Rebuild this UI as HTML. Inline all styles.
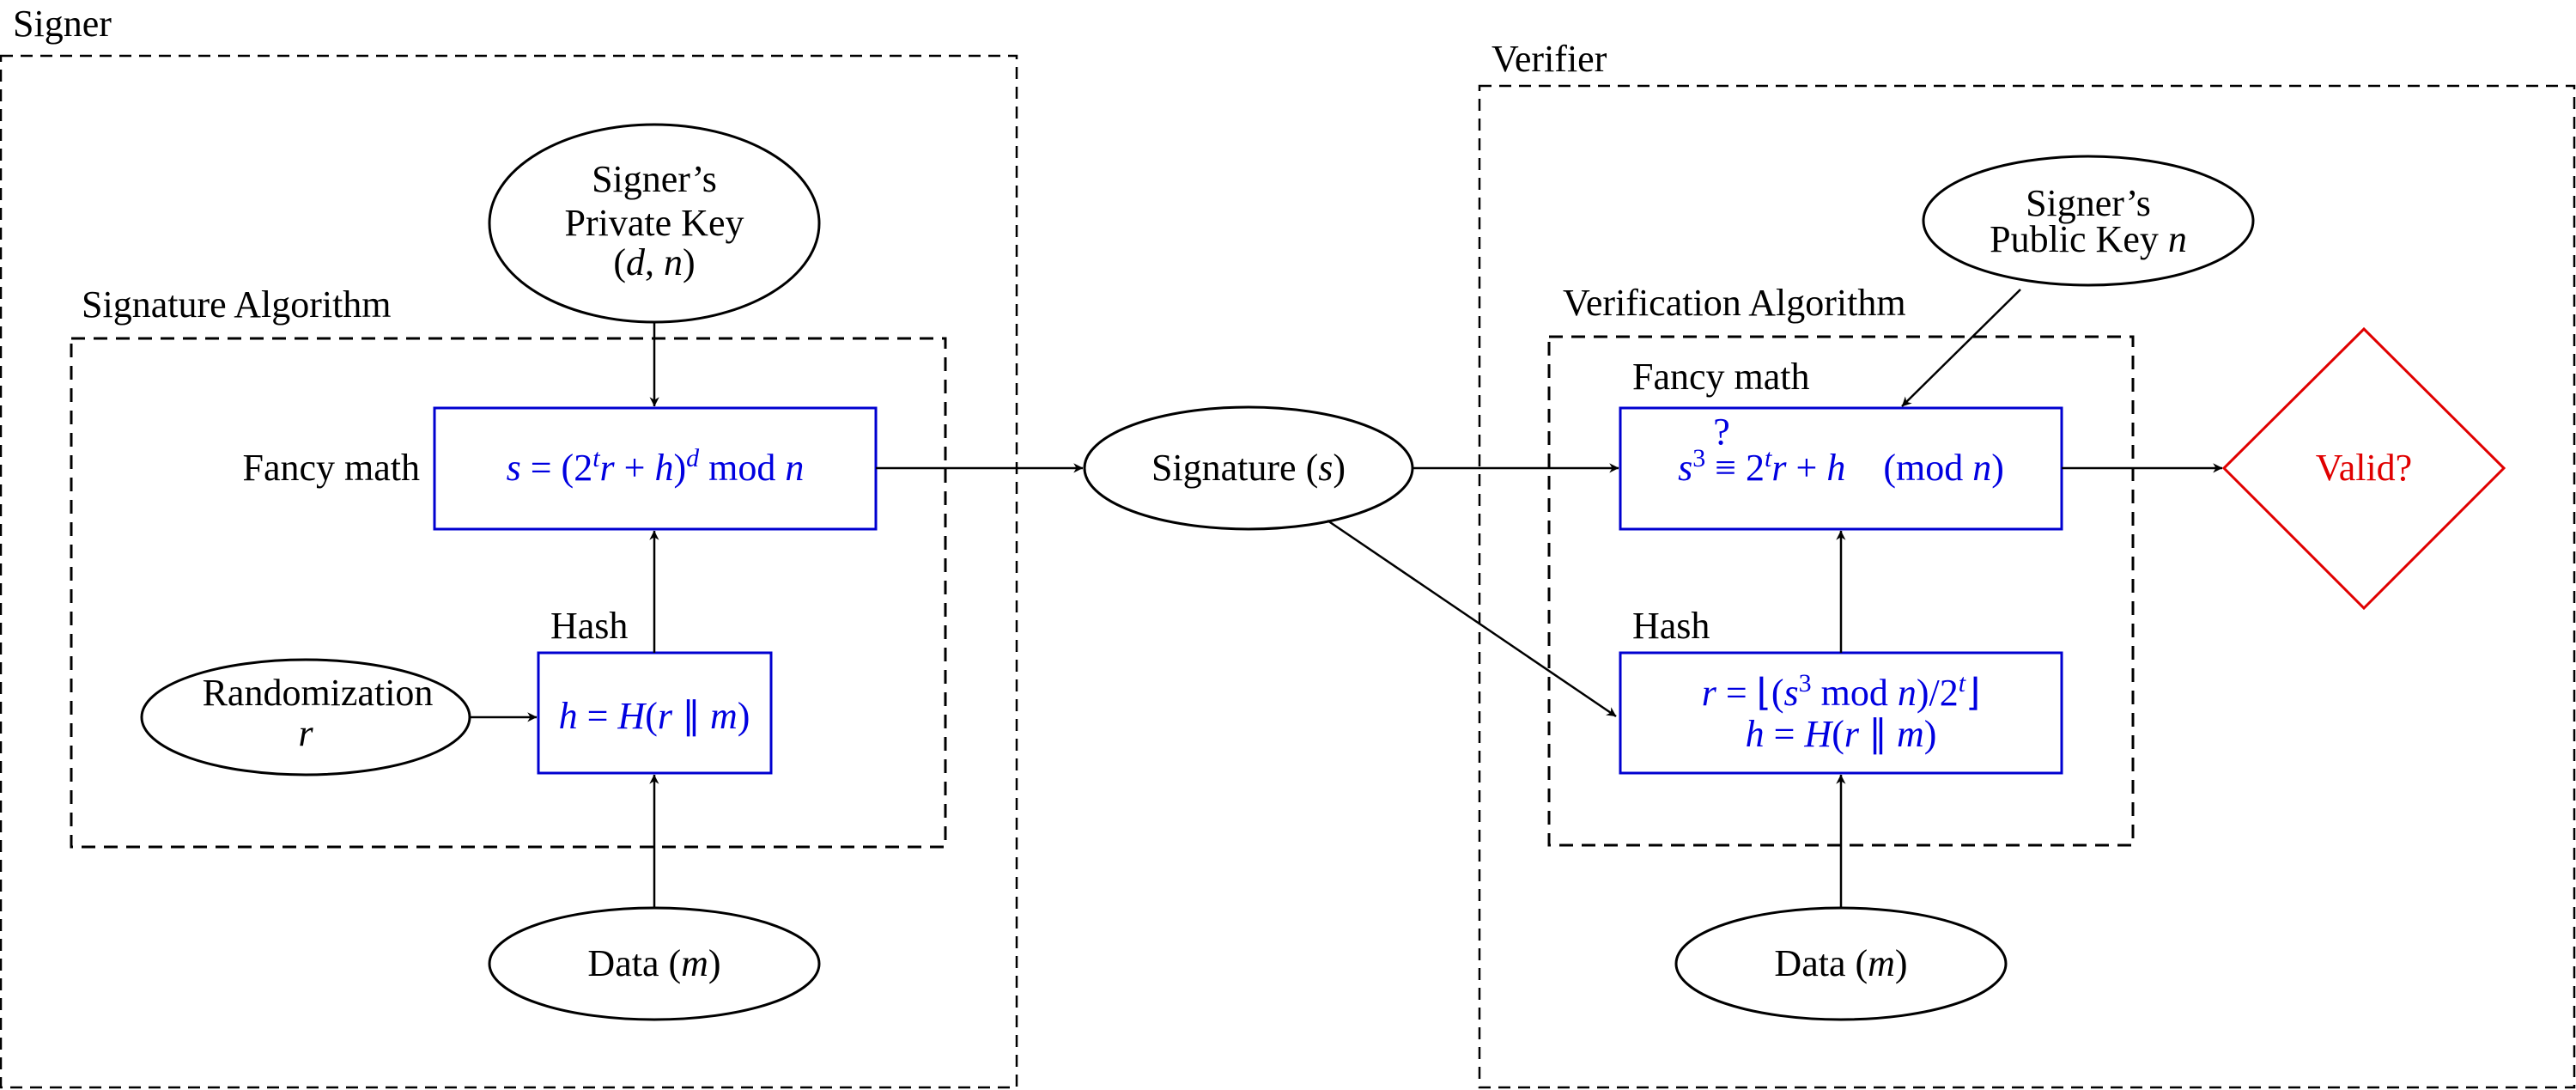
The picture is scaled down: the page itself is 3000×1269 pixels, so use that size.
<!DOCTYPE html>
<html><head><meta charset="utf-8"><style>
html,body{margin:0;padding:0;background:#fff}
svg{display:block}
text{font-family:"Liberation Serif",serif;font-size:44px}
.m{font-style:italic}
.b{fill:#0000e0}
</style></head><body>
<svg width="3000" height="1269" viewBox="0 0 3000 1269" xmlns="http://www.w3.org/2000/svg">
<defs>
<marker id="a" viewBox="0 0 10 10" refX="9" refY="5" markerWidth="7" markerHeight="7" markerUnits="userSpaceOnUse" orient="auto" style="overflow:visible">
<path d="M0,0 L10,5 L0,10 L3,5 Z" fill="#000" transform="scale(1.6) translate(-4,-2)"/>
</marker>
</defs>
<g fill="none" stroke="#000" stroke-width="2.5" stroke-dasharray="14,9">
<rect x="1" y="65" width="1183" height="1201"/>
<rect x="1723" y="100" width="1275" height="1166"/>
</g>
<g fill="none" stroke="#000" stroke-width="3" stroke-dasharray="16,10">
<rect x="83" y="394" width="1018" height="592"/>
<rect x="1804" y="392" width="680" height="592"/>
</g>
<g fill="none" stroke="#000" stroke-width="3">
<ellipse cx="762" cy="260" rx="192" ry="115"/>
<ellipse cx="356" cy="835" rx="191" ry="67"/>
<ellipse cx="762" cy="1122" rx="192" ry="65"/>
<ellipse cx="1454" cy="545" rx="191" ry="71"/>
<ellipse cx="2432" cy="257" rx="192" ry="75"/>
<ellipse cx="2144" cy="1122" rx="192" ry="65"/>
</g>
<g fill="none" stroke="#0000d0" stroke-width="3">
<rect x="506" y="475" width="514" height="141"/>
<rect x="627" y="760" width="271" height="140"/>
<rect x="1887" y="475" width="514" height="141"/>
<rect x="1887" y="760" width="514" height="140"/>
</g>
<path d="M2753,383 L2916,545 L2753,708 L2590,545 Z" fill="none" stroke="#e00000" stroke-width="3"/>
<g stroke="#000" stroke-width="2.5" fill="none">
<line x1="762" y1="375" x2="762" y2="473" marker-end="url(#a)"/>
<line x1="762" y1="760" x2="762" y2="618" marker-end="url(#a)"/>
<line x1="762" y1="1057" x2="762" y2="902" marker-end="url(#a)"/>
<line x1="547" y1="835" x2="625" y2="835" marker-end="url(#a)"/>
<line x1="1020" y1="545" x2="1261" y2="545" marker-end="url(#a)"/>
<line x1="1645" y1="545" x2="1885" y2="545" marker-end="url(#a)"/>
<line x1="1546" y1="606" x2="1882" y2="834" marker-end="url(#a)"/>
<line x1="2353" y1="337" x2="2215" y2="473" marker-end="url(#a)"/>
<line x1="2144" y1="760" x2="2144" y2="618" marker-end="url(#a)"/>
<line x1="2144" y1="1057" x2="2144" y2="902" marker-end="url(#a)"/>
<line x1="2401" y1="545" x2="2588" y2="545" marker-end="url(#a)"/>
</g>
<text x="15" y="42">Signer</text>
<text x="1737" y="83">Verifier</text>
<text x="95" y="369">Signature Algorithm</text>
<text x="1820" y="367">Verification Algorithm</text>
<text x="489" y="559" text-anchor="end">Fancy math</text>
<text x="641" y="743">Hash</text>
<text x="1901" y="453">Fancy math</text>
<text x="1901" y="743">Hash</text>
<text x="762" y="223" text-anchor="middle">Signer’s</text>
<text x="762" y="274" text-anchor="middle">Private Key</text>
<text x="762" y="320" text-anchor="middle">(<tspan class="m">d</tspan>, <tspan class="m">n</tspan>)</text>
<text x="370" y="821" text-anchor="middle">Randomization</text>
<text x="356" y="868" text-anchor="middle" class="m">r</text>
<text x="762" y="1136" text-anchor="middle">Data (<tspan class="m">m</tspan>)</text>
<text x="2144" y="1136" text-anchor="middle">Data (<tspan class="m">m</tspan>)</text>
<text x="1454" y="559" text-anchor="middle">Signature (<tspan class="m">s</tspan>)</text>
<text x="2432" y="251" text-anchor="middle">Signer’s</text>
<text x="2432" y="293" text-anchor="middle">Public Key <tspan class="m">n</tspan></text>
<text x="2753" y="559" text-anchor="middle" fill="#e00000">Valid?</text>
<text x="763" y="559" text-anchor="middle" class="b"><tspan class="m">s</tspan> = (2<tspan dy="-16" font-size="30" class="m">t</tspan><tspan dy="16" class="m">r</tspan> + <tspan class="m">h</tspan>)<tspan dy="-16" font-size="30" class="m">d</tspan><tspan dy="16"> mod </tspan><tspan class="m">n</tspan></text>
<text x="762" y="848" text-anchor="middle" class="b"><tspan class="m">h</tspan> = <tspan class="m">H</tspan>(<tspan class="m">r</tspan> ∥ <tspan class="m">m</tspan>)</text>
<text x="2144" y="559" text-anchor="middle" class="b" xml:space="preserve"><tspan class="m">s</tspan><tspan dy="-16" font-size="30">3</tspan><tspan dy="16"> ≡ 2</tspan><tspan dy="-16" font-size="30" class="m">t</tspan><tspan dy="16" class="m">r</tspan> + <tspan class="m">h</tspan>    (mod <tspan class="m">n</tspan>)</text>
<text x="2005" y="517" text-anchor="middle" class="b" font-size="26">?</text>
<text x="2144" y="821" text-anchor="middle" class="b"><tspan class="m">r</tspan> = ⌊(<tspan class="m">s</tspan><tspan dy="-16" font-size="30">3</tspan><tspan dy="16"> mod </tspan><tspan class="m">n</tspan>)/2<tspan dy="-16" font-size="30" class="m">t</tspan><tspan dy="16">⌋</tspan></text>
<text x="2144" y="869" text-anchor="middle" class="b"><tspan class="m">h</tspan> = <tspan class="m">H</tspan>(<tspan class="m">r</tspan> ∥ <tspan class="m">m</tspan>)</text>
</svg>
</body></html>
